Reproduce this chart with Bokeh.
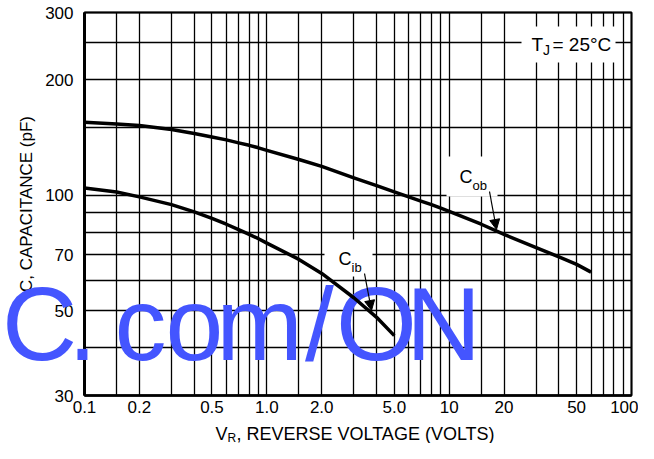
from bokeh.plotting import figure
from bokeh.models import FixedTicker, Label, Arrow, NormalHead, BoxAnnotation
from bokeh.embed import file_html
from bokeh.resources import INLINE

# ---------------- data ----------------
vr_cob = [0.1, 0.15, 0.2, 0.3, 0.4, 0.5, 0.6, 0.7, 0.8, 0.9, 1.0, 1.5, 2.0,
          3.0, 4.0, 5.0, 6.0, 7.0, 8.0, 9.0, 10, 15, 20, 30, 40, 50, 60]
c_ob = [155, 153.5, 152, 148.5, 145, 142, 139.5, 137, 135, 133, 131, 124, 119,
        111, 106, 102, 99, 96.5, 94.5, 92.5, 90.8, 84, 79, 73, 69, 66, 63]

vr_cib = [0.1, 0.15, 0.2, 0.3, 0.4, 0.5, 0.6, 0.7, 0.8, 0.9, 1.0, 1.5, 2.0, 3.0, 4.0, 5.0]
c_ib = [104.5, 102, 99, 94.5, 90.5, 87, 84, 81.3, 79, 77, 75, 68, 62.5, 54, 48, 43]

x_ticks = [0.1, 0.2, 0.5, 1.0, 2.0, 5.0, 10.0, 20.0, 50.0, 100.0]
x_tick_labels = ["0.1", "0.2", "0.5", "1.0", "2.0", "5.0", "10", "20", "50", "100"]
y_ticks = [30.0, 50.0, 70.0, 100.0, 200.0, 300.0]
y_tick_labels = ["30", "50", "70", "100", "200", "300"]

x_grid = [0.1, 0.15, 0.2, 0.3, 0.4, 0.5, 0.6, 0.7, 0.8, 0.9,
          1, 1.5, 2, 3, 4, 5, 6, 7, 8, 9,
          10, 15, 20, 30, 40, 50, 60, 70, 80, 90, 100]
y_grid = [30, 40, 50, 60, 70, 80, 90, 100, 150, 200, 250, 300]

X_MIN, X_MAX = 0.1, 100
Y_MIN, Y_MAX = 30, 300

FONT = "'Liberation Sans', Arial, sans-serif"


# picture-pixel -> data helpers for annotation placement
# (plot area in the picture: x 85..632 for 0.1..100, y 396..13 for 30..300)
def X(px):
    return 10 ** (-1 + (px - 85) / (547 / 3))


def Y(py):
    return 30 * 10 ** ((396 - py) / 383)


# the figure shows up at picture x 1..639, y 1..444; the frame fills it and
# the axes sit at fixed locations
p = figure(width=638, height=443, x_axis_type="log", y_axis_type="log",
           x_range=(X(1), X(639)), y_range=(Y(444), Y(1)),
           output_backend="svg", toolbar_location=None, title=None,
           min_border_left=0, min_border_right=0, min_border_top=0,
           min_border_bottom=0)
p.background_fill_color = "white"
p.border_fill_color = "white"
p.outline_line_color = None

for ax, ticks, labels in ((p.xaxis, x_ticks, x_tick_labels), (p.yaxis, y_ticks, y_tick_labels)):
    ax.ticker = FixedTicker(ticks=ticks)
    ax.major_label_overrides = {float(t): l for t, l in zip(ticks, labels)}
    ax.major_tick_line_color = None
    ax.minor_tick_line_color = None
    ax.major_tick_in = 0
    ax.major_tick_out = 0
    ax.minor_tick_in = 0
    ax.minor_tick_out = 0
    ax.major_label_text_font = FONT
    ax.major_label_text_font_size = "17px"
    ax.major_label_text_color = "black"
    ax.axis_line_color = "black"

p.xaxis.fixed_location = Y_MIN
p.xaxis.bounds = (X_MIN, X_MAX)
p.xaxis.axis_line_width = 2.5
p.xaxis.major_label_standoff = 5

p.yaxis.fixed_location = X_MIN
p.yaxis.bounds = (Y_MIN, Y_MAX)
p.yaxis.axis_line_width = 3
p.yaxis.major_label_standoff = 11
p.yaxis.axis_label = "C, CAPACITANCE (pF)"
p.yaxis.axis_label_text_font = FONT
p.yaxis.axis_label_text_font_size = "17px"
p.yaxis.axis_label_text_font_style = "normal"
p.yaxis.axis_label_text_color = "black"
p.yaxis.axis_label_standoff = 6

p.xgrid.ticker = FixedTicker(ticks=x_grid)
p.ygrid.ticker = FixedTicker(ticks=y_grid)
p.xgrid.cross_bounds = (Y_MIN, Y_MAX)
p.ygrid.cross_bounds = (X_MIN, X_MAX)
for g in (p.xgrid, p.ygrid):
    g.grid_line_color = "black"
    g.grid_line_alpha = 1
    g.grid_line_width = 1.3
    g.minor_grid_line_color = None

# plot-area border (top / right edges)
p.add_layout(BoxAnnotation(left=X_MIN, right=X_MAX, bottom=Y_MIN, top=Y_MAX,
                           fill_color=None, fill_alpha=0, line_color="black",
                           line_width=2, line_alpha=1))

# white label boxes
for (l, r, t, b) in ((522, 616, 27, 63), (447, 498, 157, 197), (325, 373, 240, 277)):
    p.add_layout(BoxAnnotation(left=X(l), right=X(r), top=Y(t), bottom=Y(b),
                               fill_color="white", fill_alpha=1, line_alpha=0))

# watermark
wm_chars = ["C", ".", "c", "o", "m", "/", "O", "N"]
wm_x = [40, 83, 141, 195, 260, 320, 377, 444]
for ch, px in zip(wm_chars, wm_x):
    p.add_layout(Label(x=X(px), y=Y(324), text=ch, text_font=FONT,
                       text_font_size="104px", text_color="#4455FF",
                       text_align="center", text_baseline="middle"))

# curves
p.line(vr_cob, c_ob, line_color="black", line_width=3.5, line_join="round", level="overlay")
p.line(vr_cib, c_ib, line_color="black", line_width=3.5, line_join="round", level="overlay")


def txt(px, py, s, size):
    p.add_layout(Label(x=X(px), y=Y(py), text=s, text_font=FONT,
                       text_font_size=size, text_color="black",
                       text_align="left", text_baseline="middle",
                       level="overlay"))


# T_J = 25°C
txt(532, 44.5, "T", "19px")
txt(543.5, 50, "J", "14px")
txt(553, 44.5, "= 25°C", "19px")
# C_ob, C_ib
txt(460, 177, "C", "18px")
txt(473, 186, "ob", "13px")
txt(339, 259, "C", "18px")
txt(352, 268, "ib", "13px")
# x axis title
txt(216, 434, "V", "18px")
txt(228, 438, "R", "12px")
txt(237, 434, ", REVERSE VOLTAGE (VOLTS)", "18px")

# arrows
for (x0, y0, x1, y1) in ((490, 192, 497, 230), (365, 274, 372, 311)):
    p.add_layout(Arrow(x_start=X(x0), y_start=Y(y0), x_end=X(x1), y_end=Y(y1),
                       line_color="black", line_width=1.2,
                       end=NormalHead(size=10, fill_color="black", line_color="black", line_width=1),
                       level="overlay"))

open("out.html", "w").write(file_html(p, INLINE))
